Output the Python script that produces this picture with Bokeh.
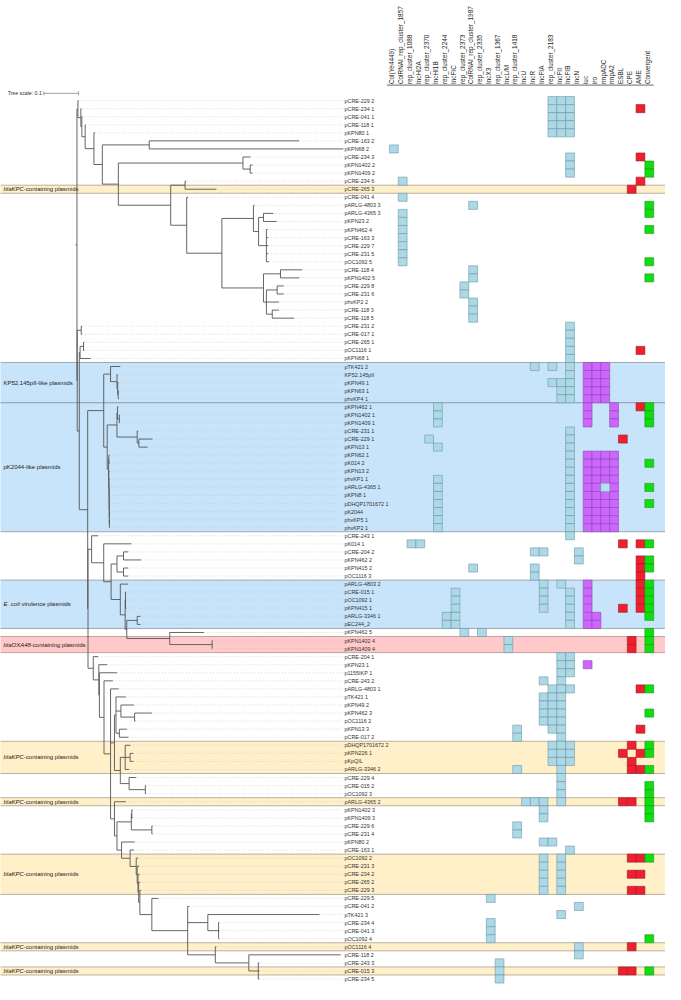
import math
from bokeh.plotting import figure
from bokeh.models import Range1d, ColumnDataSource
from bokeh.core.properties import value
from bokeh.embed import file_html
from bokeh.resources import INLINE

# ---------------- DATA ----------------
TREE_SCALE = 0.1

# Tree in Newick form; every ':' number is the node's distance from the root (tree units),
# read off the picture.
A_B3 = "(pCRE-163 2:0.6370,pKPN68 2:0.7639):0.2073"
A_B5 = "(pCRE-234 3:0.4978,(pKPN1402 2:0.5034,pKPN1409 2:0.5034):0.4969):0.4762"
A_B8 = "(pCRE-234 6:0.3129,pCRE-265 3:0.3997):0.3101"
A_B11 = ("(pARLG-4803 3:0.5090,((pARLG-4365 3:0.5630,pKPN23 2:0.5725):0.5350,"
         "(pKPN462 4:0.5468,pCRE-163 3:0.5480,pCRE-229 7:0.5490,pCRE-231 5:0.5480,pOC1092 5:0.5510):0.5434):0.5210):0.5062")
A_B12 = ("((pCRE-118 4:0.6462,pKPN1402 5:0.6378):0.5838,((pCRE-229 8:0.5930,pCRE-231 6:0.5930):0.5742,"
         "phvKP2 2:0.5790,(pCRE-118 3:0.5790,pCRE-118 5:0.6230):0.5602):0.5434):0.5350")
A_B6 = f"({A_B8},(pCRE-041 4:0.3185,({A_B11},{A_B12}):0.4157):0.3148):0.2689"
CLADE_A = (f"(pCRE-229 2:0.0042,(pCRE-234 1:0.0126,(pCRE-041 1:0.0154,(pCRE-118 1:0.0244,"
           f"(pKPN80 1:0.0515,({A_B3},({A_B5},{A_B6}):0.1188):0.0728):0.0487):0.0235):0.0140):0.0112):0.0028")

KP_A = ("(pTK421 2:0.1244,(KP52.145pII:0.1168,(pKPN49 1:0.1196,(pKPN63 1:0.1196,phvKP4 1:0.1204):0.1182)"
        ":0.1168):0.1148):0.0964")
KP_C = ("((pKPN462 1:0.1188,(pKPN1402 1:0.1224,pKPN1409 1:0.1224):0.1216):0.1162,"
        "(pCRE-231 1:0.1756,(pCRE-229 1:0.2168,pKPN13 1:0.2028):0.1776):0.1728):0.1148")
KP_D = ("((pKPN62 1:0.0935,pK014 2:0.0935):0.0915,(pKPN13 2:0.0935,(phvKP1 1:0.0935,(pARLG-4365 1:0.0935,"
        "(pKPN8 1:0.0935,(pDHQP1701672 1:0.0935,(pK2044:0.0935,(phvKP5 1:0.0935,phvKP2 1:0.0940):0.0930)"
        ":0.0928):0.0926):0.0924):0.0922):0.0918):0.0912):0.0908")
CLADE_KP = f"({KP_A},({KP_C},{KP_D}):0.0868):0.0768"

E_4 = "((pCRE-204 2:0.1468,pKPN462 2:0.1840):0.1336,(pKPN415 2:0.1468,pOC1116 3:0.1468):0.1336):0.1148"
E_10 = "(pKPN462 5:0.3641,(pKPN1402 4:0.3885,pKPN1409 4:0.3885):0.3877):0.2661"
E_6 = (f"((pCRE-015 1:0.1412,pOC1092 1:0.1412,pKPN415 1:0.1412):0.1392,"
       f"((pARLG-3346 1:0.1821,pEC244_2:0.1821):0.1728,{E_10}):0.1429):0.1384")
CLADE_E = f"(pCRE-243 1:0.0608,(pK014 1:0.1560,({E_4},(pARLG-4803 2:0.1468,{E_6}):0.1244):0.0980):0.0768):0.0420"

L_MA = ("(pTK421 1:0.1401,(pKPN49 2:0.1636,(pKPN462 3:0.2148,pOC1116 2:0.1681):0.1653):0.1261,"
        "(pKPN13 3:0.1429,pCRE-017 2:0.1476):0.1216):0.1120")
L_MB = ("((pDHQP1701672 2:0.1532,(pKPN226 1:0.1616,pKpQIL:0.1616):0.1524,pARLG-3346 2:0.1496):0.1384,"
        "(pCRE-229 4:0.1700,(pCRE-015 2:0.1980,pOC1092 3:0.1980):0.1961):0.1496):0.1244")
L_M11 = "(pTK421 3:0.6958,(pCRE-234 4:0.4081,pCRE-041 3:0.4081,pOC1092 4:0.4081):0.4062):0.3754"
L_M12 = "(pOC1116 4:0.3997,(pCRE-118 2:0.7563,(pCRE-243 3:0.5230,pCRE-015 3:0.5230,pCRE-234 5:0.5230):0.5202):0.4930):0.3969"
L_M9 = f"(pCRE-229 5:0.2336,(pCRE-041 2:0.3221,{L_M11},{L_M12}):0.3176):0.2148"
L_M7 = (f"(pOC1092 2:0.1756,(pCRE-231 3:0.1784,(pCRE-234 2:0.1798,(pCRE-265 2:0.1812,"
        f"(pCRE-229 3:0.1840,{L_M9}):0.1804):0.1770):0.1751):0.1728):0.1700")
L_M4 = "((pKPN1402 3:0.1597,pKPN1409 3:0.1597):0.1574,(pCRE-229 6:0.2168,pCRE-231 4:0.2168):0.2148):0.1560"
L_M2 = f"(pARLG-4365 2:0.1401,({L_M4},(pKPN80 2:0.1653,(pCRE-163 1:0.1636,{L_M7}):0.1524):0.1280):0.1148):0.1076"
CLADE_L = (f"(pCRE-204 1:0.0608,(pKPN23 1:0.0868,(p1155IKP 1:0.1148,(pCRE-243 2:0.1028,"
           f"(pARLG-4803 1:0.1196,({L_MA},{L_MB}):0.1076,{L_M2}):0.0964):0.0776):0.0644):0.0627):0.0468")

CLADE_S = (f"((pCRE-231 2:0.0146,pCRE-017 1:0.0146):0.0123,(((pCRE-265 1:0.0216,pOC1116 1:0.0216):0.0188,"
           f"pKPN68 1:0.0392):0.0090,({CLADE_KP},({CLADE_E},{CLADE_L}):0.0317):0.0308):0.0067):0.0008")
NEWICK = f"({CLADE_A},{CLADE_S}):0;"

HEADERS = ["Col(Ye4449)", "ColRNAI_rep_cluster_1857", "rep_cluster_1088", "IncHI2A", "rep_cluster_2370",
           "IncHI1B", "rep_cluster_2244", "IncFIC", "rep_cluster_2373", "ColRNAI_rep_cluster_1987",
           "rep_cluster_2335", "IncX3", "rep_cluster_1367", "IncL/M", "rep_cluster_1418", "IncU", "IncR",
           "IncFIA", "rep_cluster_2183", "IncFII", "IncFIB", "IncN", "iuc", "iro", "rmpADC", "rmpA2",
           "ESBL", "CPE", "AME", "Convergent"]
COL_GROUP = ["rep"] * 22 + ["vir"] * 4 + ["res"] * 3 + ["conv"]

PRESENCE = {
    "pCRE-229 2": [18, 19, 20], "pCRE-234 1": [18, 19, 20, 28], "pCRE-041 1": [18, 19, 20],
    "pCRE-118 1": [18, 19, 20], "pKPN80 1": [18, 19, 20], "pCRE-163 2": [], "pKPN68 2": [0],
    "pCRE-234 3": [20, 28], "pKPN1402 2": [20, 29], "pKPN1409 2": [20, 29], "pCRE-234 6": [1, 28],
    "pCRE-265 3": [27], "pCRE-041 4": [1], "pARLG-4803 3": [9, 29], "pARLG-4365 3": [1, 29],
    "pKPN23 2": [1], "pKPN462 4": [1, 29], "pCRE-163 3": [1], "pCRE-229 7": [1], "pCRE-231 5": [1],
    "pOC1092 5": [1, 29], "pCRE-118 4": [9], "pKPN1402 5": [9, 29], "pCRE-229 8": [8], "pCRE-231 6": [8],
    "phvKP2 2": [9], "pCRE-118 3": [9], "pCRE-118 5": [9], "pCRE-231 2": [20], "pCRE-017 1": [20],
    "pCRE-265 1": [20], "pOC1116 1": [20, 28], "pKPN68 1": [20],
    "pTK421 2": [16, 18, 20, 22, 23, 24], "KP52.145pII": [20, 22, 23, 24],
    "pKPN49 1": [18, 19, 20, 22, 23, 24], "pKPN63 1": [19, 20, 22, 23, 24], "phvKP4 1": [19, 20, 22, 23, 24],
    "pKPN462 1": [5, 22, 25, 28, 29], "pKPN1402 1": [5, 22, 25, 29], "pKPN1409 1": [5, 22, 25, 29],
    "pCRE-231 1": [20], "pCRE-229 1": [4, 20, 26], "pKPN13 1": [5, 20],
    "pKPN62 1": [20, 22, 23, 24, 25], "pK014 2": [20, 22, 23, 24, 25, 29], "pKPN13 2": [20, 22, 23, 24, 25],
    "phvKP1 1": [5, 20, 22, 23, 24, 25], "pARLG-4365 1": [5, 20, 22, 23, 25, 29],
    "pKPN8 1": [5, 20, 22, 23, 24, 25], "pDHQP1701672 1": [5, 20, 22, 23, 24, 25, 29],
    "pK2044": [5, 20, 22, 23, 24, 25], "phvKP5 1": [5, 20, 22, 23, 24, 25], "phvKP2 1": [5, 20, 22, 23, 24, 25],
    "pCRE-243 1": [20], "pK014 1": [2, 3, 26, 28, 29], "pCRE-204 2": [16, 17, 21],
    "pKPN462 2": [21, 28, 29], "pKPN415 2": [9, 16, 28, 29], "pOC1116 3": [16, 28],
    "pARLG-4803 2": [17, 19, 22, 28, 29], "pCRE-015 1": [7, 17, 20, 22, 28, 29],
    "pOC1092 1": [7, 17, 20, 22, 28, 29], "pKPN415 1": [7, 17, 20, 22, 26, 28, 29],
    "pARLG-3346 1": [6, 7, 20, 22, 23, 29], "pEC244_2": [6, 7, 20, 22, 23],
    "pKPN462 5": [8, 10, 29], "pKPN1402 4": [13, 27, 29], "pKPN1409 4": [13, 27, 29],
    "pCRE-204 1": [19, 20], "pKPN23 1": [19, 20, 22], "p1155IKP 1": [19, 20], "pCRE-243 2": [17, 19],
    "pARLG-4803 1": [18, 19, 20, 28, 29], "pTK421 1": [17, 18, 19], "pKPN49 2": [17, 18, 19],
    "pKPN462 3": [17, 18, 19, 29], "pOC1116 2": [17, 18, 19], "pKPN13 3": [14, 18, 19, 28],
    "pCRE-017 2": [14, 19], "pDHQP1701672 2": [18, 19, 20, 27, 29], "pKPN226 1": [18, 19, 20, 26, 28, 29],
    "pKpQIL": [18, 19, 20, 27], "pARLG-3346 2": [14, 19, 27, 28, 29], "pCRE-229 4": [19],
    "pCRE-015 2": [19, 29], "pOC1092 3": [19, 29], "pARLG-4365 2": [15, 16, 17, 19, 26, 27, 29],
    "pKPN1402 3": [17, 29], "pKPN1409 3": [17, 29], "pCRE-229 6": [14], "pCRE-231 4": [14],
    "pKPN80 2": [17, 18], "pCRE-163 1": [20], "pOC1092 2": [17, 19, 27, 28, 29], "pCRE-231 3": [17, 19],
    "pCRE-234 2": [17, 19, 27, 28], "pCRE-265 2": [17, 19], "pCRE-229 3": [17, 19, 27, 28],
    "pCRE-229 5": [11], "pCRE-041 2": [21], "pTK421 3": [19], "pCRE-234 4": [11], "pCRE-041 3": [11],
    "pOC1092 4": [11, 29], "pOC1116 4": [21, 27], "pCRE-118 2": [21], "pCRE-243 3": [12],
    "pCRE-015 3": [12, 26, 27, 29], "pCRE-234 5": [12],
}
PARTIAL = {"pARLG-4365 1": [24]}

BANDS = [  # (italic part, plain part, first leaf, last leaf, kind)
    ("blaKPC", "-containing plasmids", "pCRE-265 3", "pCRE-265 3", "kpc"),
    ("", "KP52.145pII-like plasmids", "pTK421 2", "phvKP4 1", "vir"),
    ("", "pK2044-like plasmids", "pKPN462 1", "phvKP2 1", "vir"),
    ("E. coli ", "virulence plasmids", "pARLG-4803 2", "pEC244_2", "vir"),
    ("blaOXA48", "-containing plasmids", "pKPN1402 4", "pKPN1409 4", "oxa"),
    ("blaKPC", "-containing plasmids", "pDHQP1701672 2", "pARLG-3346 2", "kpc"),
    ("blaKPC", "-containing plasmids", "pARLG-4365 2", "pARLG-4365 2", "kpc"),
    ("blaKPC", "-containing plasmids", "pOC1092 2", "pCRE-229 3", "kpc"),
    ("blaKPC", "-containing plasmids", "pOC1116 4", "pOC1116 4", "kpc"),
    ("blaKPC", "-containing plasmids", "pCRE-015 3", "pCRE-015 3", "kpc"),
]

# ---------------- STYLE ----------------
FONT = value("Liberation Sans")
BAND_FILL = {"kpc": "#fff0c9", "vir": "#c8e4fa", "oxa": "#ffc9c9"}
BAND_LINE = {"kpc": "#a8a08c", "vir": "#8c98a4", "oxa": "#b09494"}
CELL_FILL = {"rep": "#add8e6", "vir": "#cc66ff", "res": "#ee2030", "conv": "#11dd11", "partial": "#b4e2f2"}
CELL_LINE = {"rep": "#6b97a6", "vir": "#8a48aa", "res": "#a01820", "conv": "#139a13", "partial": "#7aa6b6"}
LABEL_X = 0.7675
HEADER_Y = -2.05
HEADER_LINE_Y = -1.92
SCALE_Y = -0.9
SCALE_X0 = -0.0952

HELV = {'a': 556, 'b': 556, 'c': 500, 'i': 222, 'l': 222, 'o': 556, 'K': 667, 'P': 667, 'C': 722,
        'E': 667, 'O': 778, 'X': 667, 'A': 667, '.': 278, ' ': 278, '4': 556, '8': 556}


def text_w(s, size):
    return sum(HELV.get(ch, 556) for ch in s) / 1000.0 * size


def parse_newick(s):
    pos = 0

    def node():
        nonlocal pos
        children = []
        if s[pos] == '(':
            pos += 1
            while True:
                children.append(node())
                if s[pos] == ',':
                    pos += 1
                    continue
                pos += 1  # ')'
                break
        start = pos
        while s[pos] not in ':,);':
            pos += 1
        name = s[start:pos].strip()
        depth = 0.0
        if s[pos] == ':':
            pos += 1
            start = pos
            while s[pos] not in ',);':
                pos += 1
            depth = float(s[start:pos])
        return {"name": name, "depth": depth, "children": children}

    return node()


tree = parse_newick(NEWICK)
leaves = []


def assign(n):
    if not n["children"]:
        n["y"] = len(leaves)
        leaves.append(n)
        return
    for c in n["children"]:
        assign(c)
    n["y"] = (n["children"][0]["y"] + n["children"][-1]["y"]) / 2.0


assign(tree)
row_of = {lf["name"]: lf["y"] for lf in leaves}

sx0, sy0, sx1, sy1 = [], [], [], []


def collect(n):
    if n["children"]:
        ys = [c["y"] for c in n["children"]]
        sx0.append(n["depth"]); sy0.append(min(ys)); sx1.append(n["depth"]); sy1.append(max(ys))
        for c in n["children"]:
            sx0.append(n["depth"]); sy0.append(c["y"]); sx1.append(c["depth"]); sy1.append(c["y"])
            collect(c)


collect(tree)

p = figure(width=665, height=984, output_backend="svg", toolbar_location=None,
           x_range=Range1d(-0.2193, 1.6882), y_range=Range1d(109.68, -12.418),
           x_axis_location=None, y_axis_location=None, min_border=0)
p.extra_x_ranges = {"heat": Range1d(-44.66, 30.84)}
p.grid.visible = False
p.outline_line_color = None
p.background_fill_color = "white"
p.border_fill_color = "white"

# bands
bl, br, bt, bb, bf, bc = [], [], [], [], [], []
for it, pl, a, b, kind in BANDS:
    bl.append(p.x_range.start - 0.05); br.append(p.x_range.end + 0.05)
    bt.append(row_of[a] - 0.5); bb.append(row_of[b] + 0.5)
    bf.append(BAND_FILL[kind]); bc.append(BAND_LINE[kind])
p.quad(left=bl, right=br, top=bt, bottom=bb, fill_color=bf, line_color=bc, line_width=0.8)

# band labels
BFS = 6
band_y = [(row_of[a] + row_of[b]) / 2 for _, _, a, b, _ in BANDS]
it_src = ColumnDataSource(dict(x=[p.x_range.start] * len(BANDS), y=band_y, t=[b[0] for b in BANDS]))
pl_src = ColumnDataSource(dict(x=[p.x_range.start] * len(BANDS), y=band_y,
                               t=[b[1] for b in BANDS], xo=[3 + text_w(b[0], BFS) for b in BANDS]))
p.text(x="x", y="y", text="t", source=it_src, x_offset=3, text_font=FONT, text_font_style="italic",
       text_font_size=f"{BFS}px", text_baseline="middle", text_align="left", text_color="#222222")
p.text(x="x", y="y", text="t", source=pl_src, x_offset="xo", text_font=FONT,
       text_font_size=f"{BFS}px", text_baseline="middle", text_align="left", text_color="#222222")

# leaf guide lines
p.segment(x0=[lf["depth"] for lf in leaves], y0=[lf["y"] for lf in leaves],
          x1=[LABEL_X - 0.005] * len(leaves), y1=[lf["y"] for lf in leaves],
          line_color="#c4c4c4", line_width=0.6, line_dash="1 2")

# tree
p.segment(x0=sx0, y0=sy0, x1=sx1, y1=sy1, line_color="#555555", line_width=0.9)
p.segment(x0=[tree["depth"] - 0.004], y0=[tree["y"]], x1=[tree["depth"]], y1=[tree["y"]],
          line_color="#555555", line_width=0.9)

# leaf labels
p.text(x=[LABEL_X] * len(leaves), y=[lf["y"] for lf in leaves], text=[lf["name"] for lf in leaves],
       text_font=FONT, text_font_size="5.4px", text_baseline="middle", text_align="left", text_color="#333333")

# heatmap cells
cx, cy, cf, cl = [], [], [], []
for name, cols in PRESENCE.items():
    for c in cols:
        cx.append(c); cy.append(row_of[name]); cf.append(CELL_FILL[COL_GROUP[c]]); cl.append(CELL_LINE[COL_GROUP[c]])
for name, cols in PARTIAL.items():
    for c in cols:
        cx.append(c); cy.append(row_of[name]); cf.append(CELL_FILL["partial"]); cl.append(CELL_LINE["partial"])
p.rect(x=cx, y=cy, width=1, height=1, x_range_name="heat", fill_color=cf, line_color=cl, line_width=0.6)

# headers
p.text(x=[i - 0.25 for i in range(len(HEADERS))], y=[HEADER_Y] * len(HEADERS), text=HEADERS,
       angle=math.pi / 2, x_range_name="heat", text_font=FONT, text_font_size="6.4px",
       text_baseline="middle", text_align="left", text_color="#222222")
p.segment(x0=[-0.8], y0=[HEADER_LINE_Y], x1=[len(HEADERS) - 0.5], y1=[HEADER_LINE_Y], x_range_name="heat",
          line_color="#444444", line_width=0.8)

# tree scale
p.segment(x0=[SCALE_X0], y0=[SCALE_Y], x1=[SCALE_X0 + TREE_SCALE], y1=[SCALE_Y], line_color="#777777", line_width=0.7)
p.segment(x0=[SCALE_X0, SCALE_X0 + TREE_SCALE], y0=[SCALE_Y - 0.25] * 2, x1=[SCALE_X0, SCALE_X0 + TREE_SCALE],
          y1=[SCALE_Y + 0.25] * 2, line_color="#777777", line_width=0.7)
p.text(x=[SCALE_X0], y=[SCALE_Y], text=[f"Tree scale: {TREE_SCALE}"], x_offset=-2, text_font=FONT,
       text_font_size="5.2px", text_baseline="middle", text_align="right", text_color="#333333")

open("out.html", "w").write(file_html(p, INLINE))
